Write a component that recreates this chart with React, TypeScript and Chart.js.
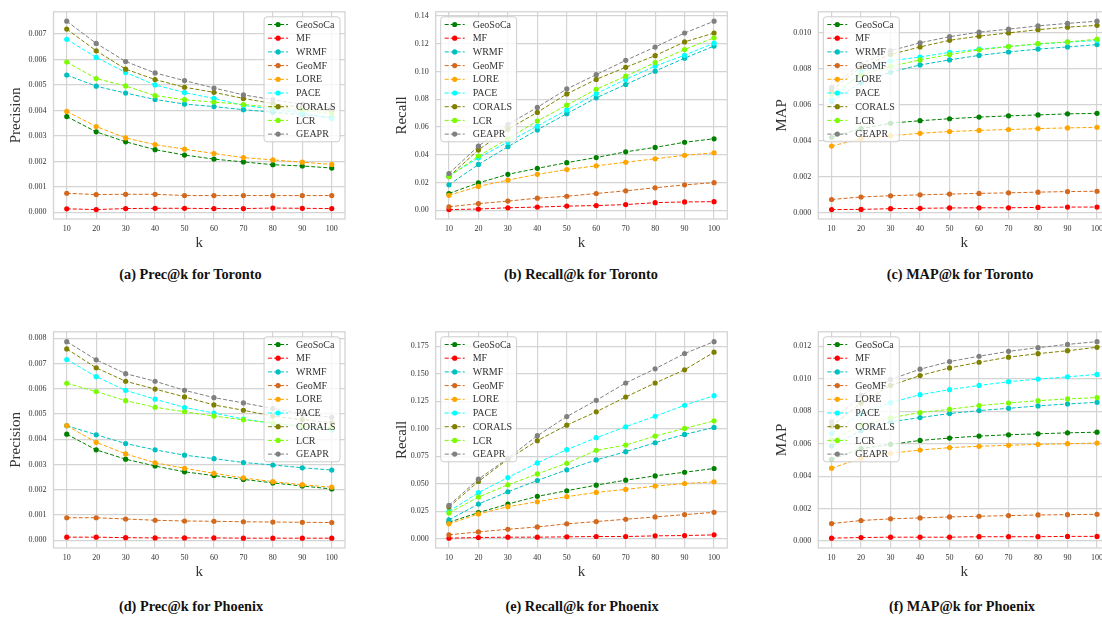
import React, { useEffect, useRef } from "react";
import { Chart, registerables } from "chart.js";

Chart.register(...registerables);

const FONT = '"Liberation Serif", "Times New Roman", serif';
const TEXT_COLOR = "#333333";
const GRID_COLOR = "#d4d4d4";

// ---- categories ----
const K = [10, 20, 30, 40, 50, 60, 70, 80, 90, 100];
const METHODS = ["GeoSoCa", "MF", "WRMF", "GeoMF", "LORE", "PACE", "CORALS", "LCR", "GEAPR"];
const COLORS = ["#008000", "#ff0000", "#00bfbf", "#d2691e", "#ffa500", "#00ffff", "#808000", "#7cfc00", "#808080"];

// ---- (a) Prec@k Toronto, rows in METHODS order ----
const precToronto = [
  [0.00376, 0.00316, 0.00277, 0.00246, 0.00225, 0.00209, 0.00198, 0.00187, 0.00182, 0.00174],
  [0.00014, 0.00011, 0.00015, 0.00016, 0.00016, 0.00015, 0.00015, 0.00017, 0.00016, 0.00015],
  [0.00539, 0.00495, 0.00468, 0.00443, 0.00425, 0.00415, 0.00403, 0.00393, 0.00384, 0.00372],
  [0.00075, 0.0007, 0.00071, 0.00071, 0.00066, 0.00066, 0.00066, 0.00066, 0.00066, 0.00066],
  [0.00396, 0.00337, 0.00292, 0.00266, 0.00248, 0.00231, 0.00215, 0.00206, 0.00197, 0.00188],
  [0.00679, 0.00608, 0.00549, 0.005, 0.0047, 0.00447, 0.0042, 0.00405, 0.0039, 0.00367],
  [0.00719, 0.00634, 0.00562, 0.00521, 0.00491, 0.00471, 0.00447, 0.00427, 0.00412, 0.00398],
  [0.0059, 0.00525, 0.00496, 0.00458, 0.00442, 0.00433, 0.00423, 0.00413, 0.00402, 0.00387],
  [0.0075, 0.00663, 0.00592, 0.00547, 0.00517, 0.00488, 0.00461, 0.00442, 0.00424, 0.00408],
];
const precTorontoTicks = [0, 0.001, 0.002, 0.003, 0.004, 0.005, 0.006, 0.007];

// ---- (b) Recall@k Toronto ----
const recallToronto = [
  [0.0121, 0.0197, 0.0259, 0.0302, 0.0343, 0.038, 0.0421, 0.0453, 0.049, 0.0515],
  [0.0005, 0.0009, 0.0018, 0.0023, 0.003, 0.0034, 0.0041, 0.0055, 0.006, 0.0062],
  [0.0183, 0.033, 0.0458, 0.0579, 0.0696, 0.081, 0.0906, 0.1002, 0.1096, 0.1183],
  [0.0025, 0.0048, 0.0066, 0.0087, 0.0101, 0.0121, 0.014, 0.0162, 0.0183, 0.0199],
  [0.0108, 0.0172, 0.0217, 0.0259, 0.0293, 0.032, 0.0346, 0.0371, 0.0396, 0.0414],
  [0.0247, 0.0378, 0.0492, 0.0606, 0.0723, 0.084, 0.0943, 0.1039, 0.1117, 0.1204],
  [0.0243, 0.0435, 0.0584, 0.0705, 0.0838, 0.0943, 0.103, 0.1114, 0.1213, 0.1277],
  [0.0243, 0.0391, 0.0515, 0.0643, 0.0757, 0.0872, 0.0966, 0.1064, 0.1158, 0.1243],
  [0.0265, 0.0462, 0.0618, 0.0741, 0.0874, 0.0977, 0.108, 0.1176, 0.1277, 0.1362],
];
const recallTorontoTicks = [0, 0.02, 0.04, 0.06, 0.08, 0.1, 0.12, 0.14];

// ---- (c) MAP@k Toronto ----
const mapToronto = [
  [0.0042, 0.00468, 0.00498, 0.00512, 0.00523, 0.00532, 0.00539, 0.00544, 0.0055, 0.00553],
  [0.00018, 0.00019, 0.00023, 0.00025, 0.00027, 0.00028, 0.00028, 0.0003, 0.00032, 0.00032],
  [0.0062, 0.00724, 0.00781, 0.00822, 0.0085, 0.00875, 0.00894, 0.0091, 0.00922, 0.00935],
  [0.00074, 0.00088, 0.00095, 0.001, 0.00104, 0.00108, 0.00111, 0.00115, 0.00118, 0.0012],
  [0.00371, 0.00412, 0.00428, 0.00442, 0.00452, 0.00458, 0.00463, 0.00468, 0.00472, 0.00475],
  [0.00627, 0.00783, 0.00845, 0.00866, 0.00892, 0.0091, 0.00924, 0.00938, 0.00949, 0.00958],
  [0.00682, 0.0081, 0.0088, 0.00922, 0.00959, 0.00982, 0.01, 0.01018, 0.01032, 0.01042],
  [0.00659, 0.00765, 0.00814, 0.0085, 0.0088, 0.00906, 0.00924, 0.0094, 0.0095, 0.00965],
  [0.00698, 0.00827, 0.00901, 0.00945, 0.00979, 0.01004, 0.01021, 0.01039, 0.01053, 0.01065],
];
const mapTorontoTicks = [0, 0.002, 0.004, 0.006, 0.008, 0.01];

// ---- (d) Prec@k Phoenix ----
const precPhoenix = [
  [0.0042, 0.00358, 0.00321, 0.00294, 0.00271, 0.00256, 0.00241, 0.00227, 0.00215, 0.00203],
  [0.00012, 0.00012, 0.0001, 0.00009, 0.00009, 0.00009, 0.00008, 0.00008, 0.00008, 0.00008],
  [0.00454, 0.00418, 0.00383, 0.00358, 0.00337, 0.00323, 0.00308, 0.00298, 0.00287, 0.00278],
  [0.00089, 0.00089, 0.00084, 0.00079, 0.00076, 0.00075, 0.00073, 0.00072, 0.00071, 0.0007],
  [0.00454, 0.00388, 0.00342, 0.00307, 0.00285, 0.00265, 0.00247, 0.00232, 0.0022, 0.0021],
  [0.00716, 0.00648, 0.00594, 0.00559, 0.00526, 0.00504, 0.0048, 0.00463, 0.0045, 0.00437],
  [0.00758, 0.00683, 0.0063, 0.00599, 0.00568, 0.00536, 0.00515, 0.00492, 0.00478, 0.00465],
  [0.00622, 0.00589, 0.00553, 0.00527, 0.00509, 0.00492, 0.00477, 0.00465, 0.00452, 0.00445],
  [0.00787, 0.00715, 0.0066, 0.0063, 0.00594, 0.00565, 0.00544, 0.00522, 0.005, 0.00487],
];
const precPhoenixTicks = [0, 0.001, 0.002, 0.003, 0.004, 0.005, 0.006, 0.007, 0.008];

// ---- (e) Recall@k Phoenix ----
const recallPhoenix = [
  [0.0151, 0.0238, 0.0316, 0.0386, 0.0437, 0.0488, 0.0533, 0.0572, 0.0605, 0.0639],
  [0.0006, 0.0012, 0.0015, 0.0015, 0.0018, 0.0021, 0.0021, 0.0027, 0.003, 0.0036],
  [0.0172, 0.0316, 0.0428, 0.053, 0.0627, 0.0717, 0.0792, 0.0873, 0.0949, 0.1012],
  [0.0036, 0.0063, 0.0087, 0.0108, 0.0136, 0.0157, 0.0178, 0.0199, 0.022, 0.0241],
  [0.0136, 0.0226, 0.0292, 0.0337, 0.0383, 0.0422, 0.0449, 0.0479, 0.0503, 0.0518],
  [0.025, 0.0419, 0.0557, 0.069, 0.081, 0.0919, 0.1018, 0.1114, 0.1214, 0.1301],
  [0.0289, 0.0521, 0.0723, 0.0892, 0.1033, 0.1154, 0.1289, 0.1416, 0.1536, 0.1696],
  [0.0235, 0.038, 0.0491, 0.059, 0.0687, 0.0804, 0.0852, 0.0934, 0.1003, 0.1072],
  [0.0304, 0.0542, 0.0732, 0.0937, 0.1111, 0.1259, 0.1416, 0.1545, 0.1684, 0.1792],
];
const recallPhoenixTicks = [0, 0.025, 0.05, 0.075, 0.1, 0.125, 0.15, 0.175];

// ---- (f) MAP@k Phoenix ----
const mapPhoenix = [
  [0.00504, 0.0057, 0.00596, 0.0062, 0.00635, 0.00647, 0.00655, 0.00661, 0.00667, 0.00671],
  [0.00018, 0.00022, 0.00024, 0.00024, 0.00024, 0.00027, 0.00027, 0.00027, 0.00029, 0.00029],
  [0.00586, 0.0068, 0.00735, 0.00761, 0.00786, 0.00804, 0.00818, 0.00833, 0.00845, 0.00855],
  [0.00108, 0.00127, 0.00137, 0.00143, 0.00149, 0.00153, 0.00157, 0.00161, 0.00163, 0.00165],
  [0.00449, 0.0051, 0.00541, 0.00561, 0.00576, 0.00584, 0.0059, 0.00596, 0.006, 0.00604],
  [0.00663, 0.00786, 0.00853, 0.00902, 0.00933, 0.00959, 0.00982, 0.00998, 0.01012, 0.01027],
  [0.00708, 0.00851, 0.00959, 0.0102, 0.01067, 0.01102, 0.01133, 0.01155, 0.01173, 0.01194],
  [0.00622, 0.00714, 0.0076, 0.00792, 0.00812, 0.00835, 0.00851, 0.00865, 0.00876, 0.00884],
  [0.00735, 0.00898, 0.00996, 0.01059, 0.01106, 0.01139, 0.01169, 0.01192, 0.01212, 0.01229],
];
const mapPhoenixTicks = [0, 0.002, 0.004, 0.006, 0.008, 0.01, 0.012];

type Layout = {
  cx: number; cy: number; cw: number; ch: number;
  l: number; r: number; t: number; b: number;
  yTitleC: number;
};

type Panel = {
  series: number[][];
  ticks: number[];
  dec: number;
  ylabel: string;
  caption: string;
  legend: "left" | "right";
  layout: Layout;
  capX: number;
  capY: number;
};

const PANELS: Panel[] = [
  { series: precToronto, ticks: precTorontoTicks, dec: 3, ylabel: "Precision", caption: "(a) Prec@k for Toronto", legend: "right",
    layout: { cx: 0, cy: 0, cw: 360, ch: 255, l: 53.5, r: 345, t: 2, b: 219, yTitleC: 15.7 }, capX: 190.5, capY: 274 },
  { series: recallToronto, ticks: recallTorontoTicks, dec: 2, ylabel: "Recall", caption: "(b) Recall@k for Toronto", legend: "left",
    layout: { cx: 370, cy: 0, cw: 365, ch: 255, l: 435.7, r: 727.3, t: 2, b: 219, yTitleC: 401.7 }, capX: 581, capY: 274 },
  { series: mapToronto, ticks: mapTorontoTicks, dec: 3, ylabel: "MAP", caption: "(c) MAP@k for Toronto", legend: "left",
    layout: { cx: 740, cy: 0, cw: 380, ch: 255, l: 818.3, r: 1110.3, t: 2, b: 219, yTitleC: 781.7 }, capX: 960, capY: 274 },
  { series: precPhoenix, ticks: precPhoenixTicks, dec: 3, ylabel: "Precision", caption: "(d) Prec@k for Phoenix", legend: "right",
    layout: { cx: 0, cy: 320, cw: 360, ch: 265, l: 53.5, r: 345, t: 329, b: 548, yTitleC: 15.7 }, capX: 191, capY: 606 },
  { series: recallPhoenix, ticks: recallPhoenixTicks, dec: 3, ylabel: "Recall", caption: "(e) Recall@k for Phoenix", legend: "left",
    layout: { cx: 370, cy: 320, cw: 365, ch: 265, l: 435.7, r: 727.3, t: 329, b: 548, yTitleC: 401.7 }, capX: 582, capY: 606 },
  { series: mapPhoenix, ticks: mapPhoenixTicks, dec: 3, ylabel: "MAP", caption: "(f) MAP@k for Phoenix", legend: "left",
    layout: { cx: 740, cy: 320, cw: 380, ch: 265, l: 818.3, r: 1110.3, t: 329, b: 548, yTitleC: 781.7 }, capX: 962, capY: 606 },
];

const DASH = [4, 2];
const POINT_R = 2.6;

const framePlugin = {
  id: "frame",
  afterDatasetsDraw(chart: any) {
    const { ctx, chartArea: a } = chart;
    ctx.save();
    ctx.strokeStyle = GRID_COLOR;
    ctx.lineWidth = 1.3;
    ctx.setLineDash([]);
    ctx.strokeRect(a.left, a.top, a.right - a.left, a.bottom - a.top);
    ctx.restore();
  },
};

function makeLegendPlugin(corner: "left" | "right") {
  return {
    id: "inLegend",
    afterDraw(chart: any) {
      const { ctx, chartArea: a } = chart;
      const ds = chart.data.datasets;
      ctx.save();
      ctx.font = `10px ${FONT}`;
      const maxW = Math.max(...ds.map((d: any) => ctx.measureText(d.label).width));
      const rowH = 13.7;
      const pad = 7.7;
      const w = 32 + maxW + 4.5;
      const h = pad * 2 + rowH * (ds.length - 1);
      const x = corner === "right" ? a.right - 5 - w : a.left + 5;
      const y = a.top + 5;
      ctx.beginPath();
      (ctx as any).roundRect(x, y, w, h, 3);
      ctx.fillStyle = "rgba(255,255,255,0.8)";
      ctx.fill();
      ctx.strokeStyle = "#cccccc";
      ctx.lineWidth = 1;
      ctx.stroke();
      ds.forEach((d: any, i: number) => {
        const cy = y + pad + i * rowH;
        ctx.strokeStyle = d.borderColor;
        ctx.lineWidth = 1;
        ctx.setLineDash(DASH);
        ctx.beginPath();
        ctx.moveTo(x + 4, cy);
        ctx.lineTo(x + 24, cy);
        ctx.stroke();
        ctx.setLineDash([]);
        ctx.fillStyle = d.borderColor;
        ctx.beginPath();
        ctx.arc(x + 14, cy, POINT_R, 0, Math.PI * 2);
        ctx.fill();
        ctx.fillStyle = TEXT_COLOR;
        ctx.textBaseline = "middle";
        ctx.textAlign = "left";
        ctx.fillText(d.label, x + 32, cy + 0.5);
      });
      ctx.restore();
    },
  };
}

function PanelChart({ p }: { p: Panel }) {
  const ref = useRef<HTMLCanvasElement>(null);
  const L = p.layout;
  useEffect(() => {
    const canvas = ref.current;
    if (!canvas) return;
    const all = p.series.flat();
    const dmin = Math.min(...all);
    const dmax = Math.max(...all);
    const yr = dmax - dmin;
    const ymin = dmin - 0.05 * yr;
    const ymax = dmax + 0.05 * yr;
    const xr = K[K.length - 1] - K[0];
    const xmin = K[0] - 0.05 * xr;
    const xmax = K[K.length - 1] + 0.05 * xr;

    const datasets = METHODS.map((m, i) => ({
      label: m,
      data: K.map((k, j) => ({ x: k, y: p.series[i][j] })),
      borderColor: COLORS[i],
      backgroundColor: COLORS[i],
      pointBackgroundColor: COLORS[i],
      pointBorderColor: COLORS[i],
      pointBorderWidth: 0,
      pointRadius: POINT_R,
      borderWidth: 1,
      borderDash: DASH,
      tension: 0,
      order: METHODS.length - 1 - i,
    }));

    const yAxisW = L.l - L.cx;
    const xAxisH = L.cy + L.ch - L.b;
    const titleLH = 15 * 1.2;

    const chart = new Chart(canvas, {
      type: "line",
      data: { datasets },
      options: {
        animation: false,
        responsive: false,
        events: [],
        layout: { padding: { left: 0, top: L.t - L.cy, right: L.cx + L.cw - L.r, bottom: 0 } },
        plugins: { legend: { display: false }, tooltip: { enabled: false } },
        scales: {
          x: {
            type: "linear",
            bounds: "data",
            min: xmin,
            max: xmax,
            afterBuildTicks: (ax: any) => { ax.ticks = K.map((v) => ({ value: v })); },
            afterFit: (s: any) => { s.height = xAxisH; },
            ticks: {
              font: { family: FONT, size: 8 },
              color: TEXT_COLOR,
              padding: 5,
              maxRotation: 0,
              autoSkip: false,
              callback: (v: any) => String(v),
            },
            grid: { color: GRID_COLOR, lineWidth: 1.2, drawTicks: false },
            border: { display: false },
            title: {
              display: true,
              text: "k",
              font: { family: FONT, size: 15 },
              color: TEXT_COLOR,
              padding: { top: 0, bottom: xAxisH - 24 - titleLH / 2 },
            },
          },
          y: {
            type: "linear",
            bounds: "data",
            min: ymin,
            max: ymax,
            afterBuildTicks: (ax: any) => { ax.ticks = p.ticks.map((v) => ({ value: v })); },
            afterFit: (s: any) => { s.width = yAxisW; },
            ticks: {
              font: { family: FONT, size: 8 },
              color: TEXT_COLOR,
              padding: 7,
              autoSkip: false,
              callback: (v: any) => Number(v).toFixed(p.dec),
            },
            grid: { color: GRID_COLOR, lineWidth: 1.2, drawTicks: false },
            border: { display: false },
            title: {
              display: true,
              text: p.ylabel,
              font: { family: FONT, size: 15 },
              color: TEXT_COLOR,
              padding: { top: L.yTitleC - L.cx - titleLH / 2, bottom: 0 },
            },
          },
        },
      } as any,
      plugins: [framePlugin, makeLegendPlugin(p.legend)],
    });
    return () => chart.destroy();
  }, [p]);

  return (
    <canvas
      ref={ref}
      width={L.cw}
      height={L.ch}
      style={{ position: "absolute", left: L.cx, top: L.cy, width: L.cw, height: L.ch }}
    />
  );
}

export default function App() {
  return (
    <div
      style={{
        position: "absolute",
        left: 0,
        top: 0,
        width: 1102,
        height: 623,
        overflow: "hidden",
        background: "#ffffff",
      }}
    >
      {PANELS.map((p, i) => (
        <PanelChart key={i} p={p} />
      ))}
      {PANELS.map((p, i) => (
        <div
          key={"c" + i}
          style={{
            position: "absolute",
            left: p.capX - 150,
            top: p.capY - 9,
            width: 300,
            height: 18,
            lineHeight: "18px",
            textAlign: "center",
            fontFamily: FONT,
            fontWeight: "bold",
            fontSize: 14.3,
            color: "#111111",
            whiteSpace: "nowrap",
          }}
        >
          {p.caption}
        </div>
      ))}
    </div>
  );
}
